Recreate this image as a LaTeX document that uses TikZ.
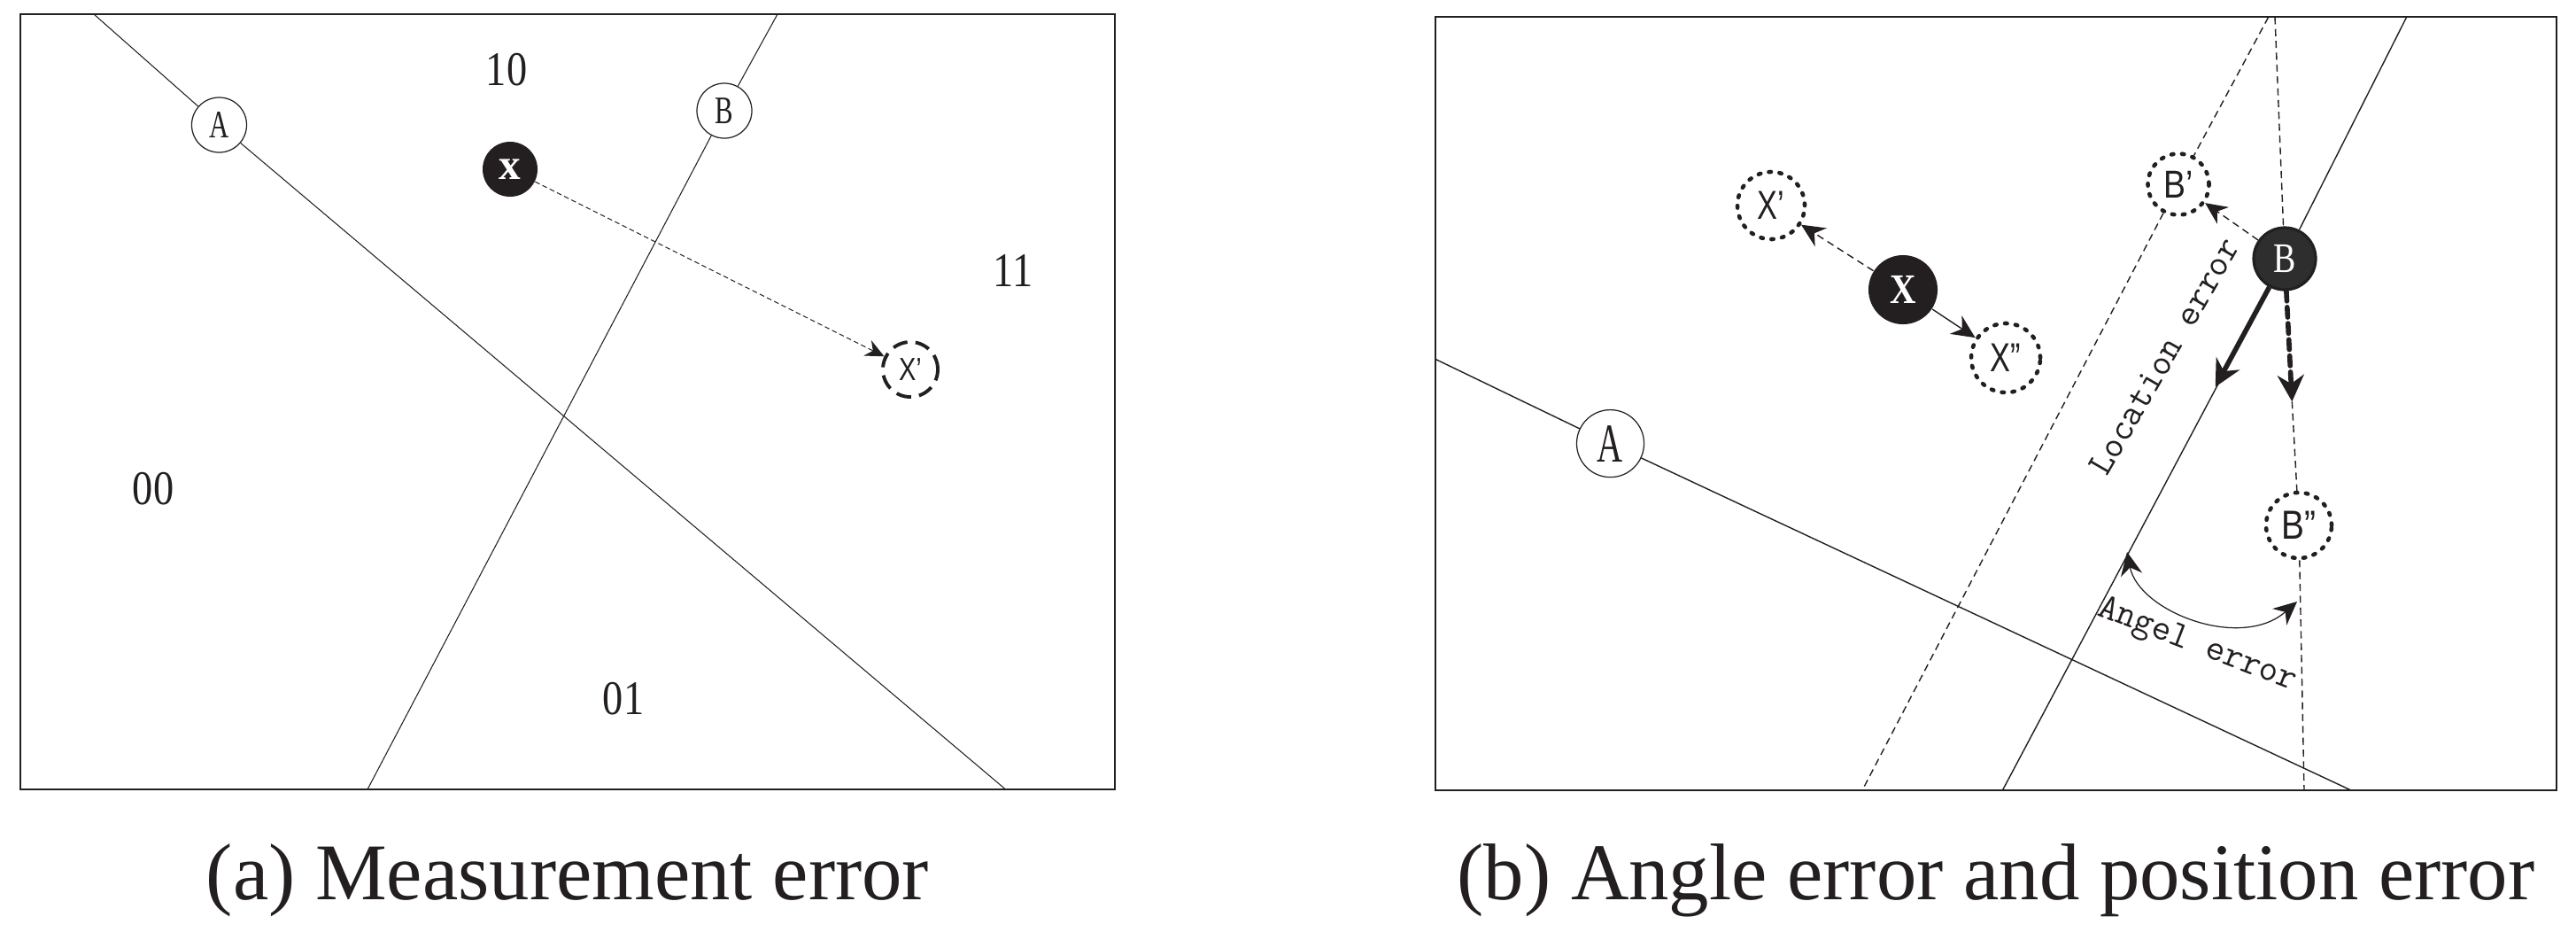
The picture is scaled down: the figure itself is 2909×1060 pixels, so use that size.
\documentclass[tikz,border=0pt]{standalone}
\usepackage{fontspec}
\setmainfont{Liberation Serif}
\newfontfamily\lsans{Liberation Sans}
\usepackage{graphicx}
\usetikzlibrary{arrows.meta}
\definecolor{ink}{HTML}{231F20}
\definecolor{bfill}{HTML}{2E2E2E}
\tikzset{
  frame/.style={draw=ink, line width=0.6pt},
  ln/.style={draw=ink, line width=0.3pt},
  lnb/.style={draw=ink, line width=0.4pt},
  dln/.style={draw=ink, line width=0.4pt, dash pattern=on 2.3pt off 1.5pt},
  opennode/.style={circle, draw=ink, fill=white, line width=0.35pt, inner sep=0pt, text=ink},
  darknode/.style={circle, fill=ink, inner sep=0pt, text=white},
  dotnode/.style={circle, draw=ink, fill=white, line width=1.3pt, dash pattern=on 0.7pt off 2.7pt, line cap=round, inner sep=0pt, text=ink},
  dashnode/.style={circle, draw=ink, fill=white, line width=1.1pt, dash pattern=on 4.8pt off 2.6pt, inner sep=0pt, text=ink},
  region/.style={text=ink, font=\fontsize{15.5}{18}\selectfont},
  errtext/.style={text=ink, font=\ttfamily\fontsize{11.9}{13}\selectfont},
  caption/.style={anchor=base, text=ink, font=\fontsize{25.8}{30}\selectfont},
  tip/.style={-{Stealth[length=7.5pt,width=7pt]}},
}
\begin{document}
\begin{tikzpicture}[x=0.01cm,y=-0.01cm]
\useasboundingbox (0,0) rectangle (2909,1060);

% ---------- panel (a) ----------
\draw[frame] (23,16) rectangle (1259,891);
\node[opennode, minimum size=0.62cm] (Aa) at (247.5,141) {\fontsize{12.5}{14}\selectfont\scalebox{0.7}[1]{A}};
\node[opennode, minimum size=0.62cm] (Ba) at (818,125) {\fontsize{12.5}{14}\selectfont\scalebox{0.7}[1]{B}};
\node[darknode, minimum size=0.62cm] (xa) at (576,191) {\fontsize{14}{16}\selectfont\bfseries x};
\node[dashnode, minimum size=0.62cm] (xpa) at (1028,417) {\lsans\fontsize{10.3}{12}\selectfont\scalebox{0.8}[1]{X’}};
\coordinate (aAt) at (106,16);
\coordinate (aAb) at (1135.6,891);
\coordinate (aBt) at (878,16);
\coordinate (aBb) at (415,891);
\draw[ln] (aAt) -- (Aa) -- (aAb);
\draw[ln] (aBt) -- (Ba) -- (aBb);
\draw[ln, dash pattern=on 1.6pt off 1pt, -{Stealth[length=6pt,width=5.5pt]}] (xa) -- (xpa);
\node[region] (r10) at (572,79) {\scalebox{0.85}[1]{10}};
\node[region] (r11) at (1144,305) {\scalebox{0.85}[1]{11}};
\node[region] (r00) at (173,552) {\scalebox{0.85}[1]{00}};
\node[region] (r01) at (704,789) {\scalebox{0.85}[1]{01}};
\node[caption] (capa) at (641,1015) {(a) Measurement error};

% ---------- panel (b) ----------
\draw[frame] (1621,19) rectangle (2887,892);
\node[opennode, minimum size=0.76cm] (Ab) at (1818.5,500.6) {\fontsize{17.6}{20}\selectfont\scalebox{0.65}[1]{A}};
\node[circle, fill=bfill, draw=ink, line width=0.9pt, inner sep=0pt, text=white, minimum size=0.7cm] (Bb) at (2580,292) {\fontsize{13.5}{15}\selectfont\scalebox{0.8}[1]{B}};
\node[dotnode, minimum size=0.69cm] (Bp) at (2460,208) {\lsans\fontsize{12.5}{14}\selectfont\scalebox{0.85}[1]{B’}};
\node[dotnode, minimum size=0.74cm] (Bpp) at (2596,593) {\lsans\fontsize{13}{14}\selectfont\scalebox{0.85}[1]{B”}};
\node[darknode, minimum size=0.78cm] (Xb) at (2149,327) {\fontsize{13.5}{15}\selectfont\bfseries\scalebox{0.86}[1]{X}};
\node[dotnode, minimum size=0.76cm] (Xp) at (2000,232) {\lsans\fontsize{13}{14}\selectfont\scalebox{0.75}[1]{X’}};
\node[dotnode, minimum size=0.78cm] (Xpp) at (2265,404) {\lsans\fontsize{13}{14}\selectfont\scalebox{0.75}[1]{X”}};

\coordinate (bAl) at (1621,405.4);
\coordinate (bAr) at (2655,892);
\coordinate (sT) at (2717.6,19.4);
\coordinate (sB) at (2261.4,892);
\coordinate (dT) at (2561.6,19.4);
\coordinate (dB) at (2103,892);
\coordinate (vT) at (2569,19.4);
\coordinate (vB) at (2602,892);
\coordinate (locTip) at (2501.7,436.7);
\coordinate (angTip) at (2588.3,453.3);
\coordinate (ang1) at (2402,623);
\coordinate (ang2) at (2594,679);

\draw[lnb] (bAl) -- (Ab) -- (bAr);
\draw[lnb] (sT) -- (Bb) -- (sB);
\draw[dln] (dT) -- (Bp) -- (dB);
\draw[dln] (vT) -- (Bb);
\draw[dln] (angTip) -- (Bpp) -- (vB);
\draw[ink, line width=1.6pt, -{Stealth[length=8.5pt,width=8.5pt]}] (Bb) -- (locTip);
\draw[ink, line width=1.6pt, line cap=round, dash pattern=on 3.2pt off 2pt, -{Stealth[length=8.5pt,width=8.5pt]}] (Bb) -- (angTip);
\draw[dln, -{Stealth[length=7pt,width=6.5pt]}] (Bb) -- (Bp);
\draw[dln, tip] (Xb) -- (Xp);
\draw[lnb, tip] (Xb) -- (Xpp);
\draw[ink, line width=0.35pt, {Stealth[length=7.5pt,width=7pt]}-{Stealth[length=7.5pt,width=7pt]}] (ang1) .. controls (2415,690) and (2530,735) .. (ang2);

\node[errtext, rotate=60] (loc) at (2444,402) {Location error};
\node[errtext, rotate=-21] (ang) at (2481,729) {Angel error};
\node[caption] (capb) at (2254,1015) {(b) Angle error and position error};
\end{tikzpicture}
\end{document}
